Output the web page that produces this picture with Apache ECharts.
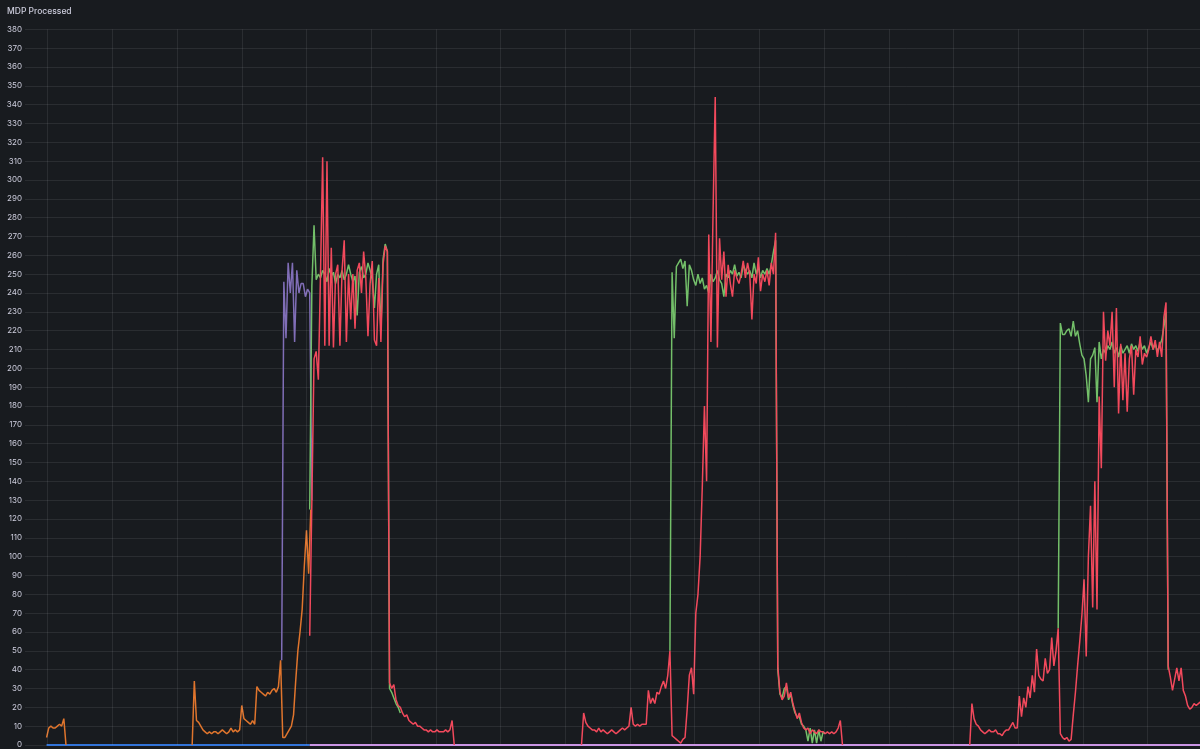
<!DOCTYPE html>
<html><head><meta charset="utf-8">
<script src="https://cdn.jsdelivr.net/npm/echarts@6/dist/echarts.min.js"></script>
<style>html,body{margin:0;padding:0;background:#181b1f;}#c{width:1200px;height:749px;}</style>
</head><body><div id="c"></div>
<script>
// time in minutes from the left edge of the plot, one sample per minute
const STEP = 1;
const X_MAX = 544.75;
const xGridTicks = [10.5,40.5,70.5,100.5,130.5,160.5,190.5,220.5,250.5,280.5,310.5,340.5,370.5,400.5,430.5,460.5,490.5,520.5];
const Y_MIN = 0, Y_MAX = 380, Y_STEP = 10;

// zero-valued series (start/end times)
const blueTimes = [10, 132];
const lilacTimes = [132, 546];

// orange
const orange1Start = 10;
const orange1 = [4,9,10,9,9,10,11,10,14,0];
const orange2Start = 77.5;
const orange2 = [0,34,13,12,10,8,7,6,7,6,7,7,6,7,8,7,6,7,9,7,8,7,8,21,14,13,12,11,13,11,31,29,28,27,26,28,27,29,30,28,31,45,4,4,6,8,10,16,34,50,60,72,95,114,91,125];

// purple
const purpleStart = 119;
const purple = [45,246,216,256,240,256,214,252,240,245,245,238,242,240,130];

// green
const green1Start = 132;
const green1 = [125,244,276,247,250,248,252,250,246,253,249,251,245,250,248,252,247,250,255,250,246,249,228,251,254,248,250,256,252,247,232,250,255,220,258,266,262,30,28,25,22,20,17];
const green2Start = 299;
const green2 = [50,251,216,254,256,258,253,257,233,255,252,247,244,250,245,248,242,244,240,250,246,248,252,247,245,238,250,248,252,250,255,249,251,248,255,252,250,252,248,256,250,254,248,252,250,253,250,255,262,268,40,27,25,30,31,24,27,21,17,15,15,11,10,8,2,9,1,8,1,8,2,7,6];
const green3Start = 479;
const green3 = [62,224,218,218,220,221,217,225,217,220,213,207,205,196,182,205,207,211,182,214,205,210,208,212,210,214,208,211,206,212,208,210,212,208,213,210,212,209,214,210,212,208,211,214,210,213,209,212,215,222,230,40];

// red
const red1Start = 132;
const red1 = [58,130,205,209,194,250,312,212,310,212,264,211,250,255,212,252,268,214,250,226,250,221,252,256,240,262,248,217,245,257,215,212,248,214,255,265,262,33,30,32,24,21,20,17,15,16,13,12,11,12,10,10,9,8,8,7,8,7,7,8,7,7,7,8,7,8,13,0];
const red2Start = 258;
const red2 = [0,17,12,10,9,8,8,7,9,7,8,7,6,7,8,7,6,7,8,9,8,9,10,20,11,10,11,10,11,11,11,29,22,25,22,28,27,31,34,30,37,50,5,4,3,2,1,3,4,19,37,41,27,70,80,100,137,180,140,271,214,283,344,211,269,247,262,238,255,245,238,252,248,245,250,257,248,256,250,226,250,245,259,241,250,246,252,244,256,250,272,42,28,24,26,33,25,28,22,18,14,17,12,9,8,9,6,8,7,6,8,7,7,6,7,6,7,6,7,9,13,0];
const red3Start = 438;
const red3 = [0,22,14,11,10,8,7,6,7,8,7,7,8,6,6,5,7,8,8,10,12,9,9,26,15,25,20,31,25,37,28,51,37,35,34,46,38,40,57,42,50,62,6,4,3,4,2,3,16,28,42,55,69,88,47,100,127,73,140,72,185,147,230,204,220,212,230,190,232,176,213,183,208,177,205,212,186,210,206,217,202,208,206,210,217,210,215,206,214,206,227,235,42,36,29,35,41,34,41,29,26,21,19,20,22,21,22,23];

function seg(start, vals) { return vals.map((v, i) => [start + i * STEP, v]); }
function joinSegs(segs) {
  const out = [];
  segs.forEach((s, i) => {
    if (i > 0) out.push([s[0][0] - 0.01, '-']);
    s.forEach(p => out.push(p));
  });
  return out;
}

const gridColor = 'rgba(204,204,220,0.1)';
function lineSeries(name, color, data, width, extra) {
  return Object.assign({
    name, type: 'line', data, showSymbol: false, symbol: 'none',
    connectNulls: false, sampling: null,
    lineStyle: { color, width }, itemStyle: { color },
    emphasis: { disabled: true }, silent: true
  }, extra || {});
}

const chart = echarts.init(document.getElementById('c'), null, { renderer: 'canvas' });
chart.setOption({
  backgroundColor: '#181b1f',
  animation: false,
  title: {
    text: 'MDP Processed', left: 7, top: 7, padding: 0,
    textStyle: { color: '#ccccdc', fontSize: 8.5, fontWeight: 500, fontFamily: 'Inter' }
  },
  grid: { left: 25, right: 0, top: 29.3, bottom: 2, containLabel: false },
  xAxis: {
    type: 'value', min: 0, max: X_MAX,
    axisLine: { show: false }, axisTick: { show: false }, axisLabel: { show: false },
    splitLine: { show: false }
  },
  yAxis: {
    type: 'value', min: Y_MIN, max: Y_MAX, interval: Y_STEP,
    axisLine: { show: false }, axisTick: { show: false },
    axisLabel: { color: '#ccccdc', fontSize: 8, fontFamily: 'Inter', margin: 3 },
    splitLine: { lineStyle: { color: gridColor, width: 1 } }
  },
  series: [
    lineSeries('blue', '#3274D9', blueTimes.map(t => [t, 0]), 2, {
      markLine: {
        silent: true, symbol: ['none', 'none'], label: { show: false },
        lineStyle: { color: gridColor, type: 'solid', width: 1 },
        emphasis: { disabled: true },
        data: xGridTicks.map(v => ({ xAxis: v }))
      }
    }),
    lineSeries('lilac', '#CA95E5', lilacTimes.map(t => [t, 0]), 2),
    lineSeries('orange', '#E0752D', joinSegs([seg(orange1Start, orange1), seg(orange2Start, orange2)]), 1.5),
    lineSeries('purple', '#806EB7', seg(purpleStart, purple), 1.5),
    lineSeries('green', '#73BF69', joinSegs([seg(green1Start, green1), seg(green2Start, green2), seg(green3Start, green3)]), 1.5),
    lineSeries('red', '#F2495C', joinSegs([seg(red1Start, red1), seg(red2Start, red2), seg(red3Start, red3)]), 1.5)
  ]
});
</script>
</body></html>
